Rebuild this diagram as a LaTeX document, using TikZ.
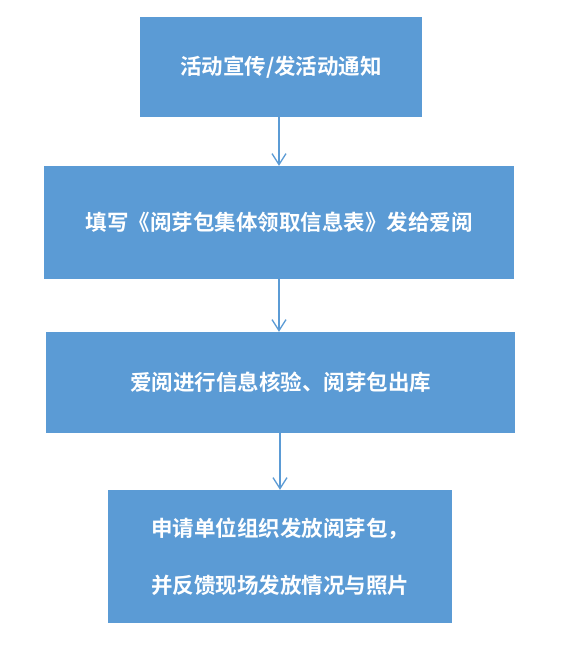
\documentclass[tikz,border=0pt]{standalone}
\usepackage{fontspec}
\newfontfamily\cjk{Noto Sans CJK SC Bold}
\usetikzlibrary{arrows.meta}
\definecolor{boxblue}{HTML}{5B9BD5}
\definecolor{arrowblue}{HTML}{5B9BD5}
\tikzset{
  stepbox/.style={fill=boxblue, draw=none, text=white, font=\cjk\fontsize{21.5}{57}\selectfont, align=center, inner sep=0pt},
  flowarrow/.style={draw=arrowblue, line width=1.3pt, -{Straight Barb[length=11pt,width=14pt,line width=1.3pt]}}
}
\begin{document}
\begin{tikzpicture}[x=1pt,y=-1pt]
\useasboundingbox (0,0) rectangle (561,651);
\fill[white] (0,0) rectangle (561,651);
\node[stepbox, minimum width=282pt, minimum height=100pt] (b1) at (281,67) {活动宣传/发活动通知};
\node[stepbox, minimum width=470pt, minimum height=113pt] (b2) at (279,222.5) {填写《阅芽包集体领取信息表》发给爱阅};
\node[stepbox, minimum width=469pt, minimum height=101pt] (b3) at (280.5,382.5) {爱阅进行信息核验、阅芽包出库};
\node[stepbox, minimum width=344pt, minimum height=133pt] (b4) at (280,556.5) {申请单位组织发放阅芽包，\\并反馈现场发放情况与照片};
\draw[flowarrow] (b1.south -| 279,0) -- (b2.north -| 279,0);
\draw[flowarrow] (b2.south -| 279,0) -- (b3.north -| 279,0);
\draw[flowarrow] (b3.south -| 280,0) -- (b4.north -| 280,0);
\end{tikzpicture}
\end{document}
